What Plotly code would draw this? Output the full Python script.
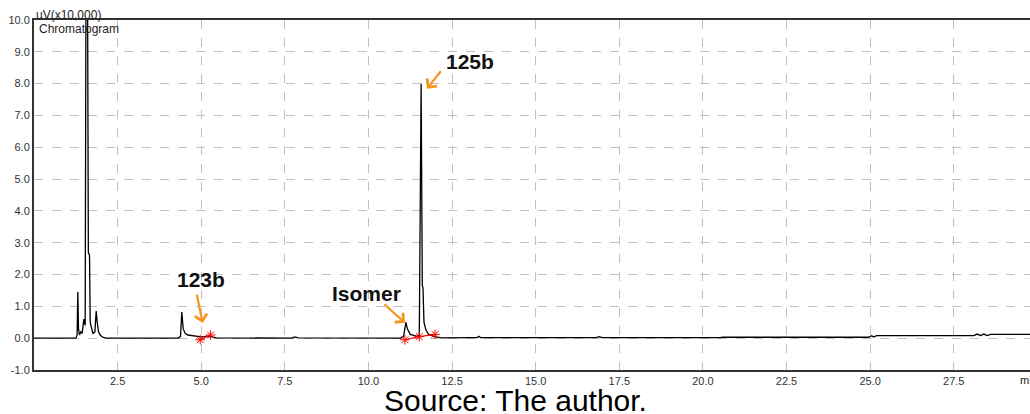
import plotly.graph_objects as go

# Chromatogram signal (retention time in min, intensity in uV x 10,000)
time_min = [0.00, 1.25, 1.29, 1.31, 1.33, 1.36, 1.40, 1.44, 1.49, 1.53, 1.555, 1.60, 1.625, 1.66, 1.68,
            1.72, 1.76, 1.82, 1.86, 1.89, 1.93, 1.98, 2.05, 2.15,
            4.30, 4.38, 4.42, 4.46, 4.52, 4.60, 4.80, 5.00, 5.20, 5.30, 5.45,
            7.70, 7.80, 7.90,
            10.95, 11.05, 11.12, 11.16, 11.25, 11.35, 11.45, 11.52, 11.555, 11.575, 11.61, 11.63, 11.66,
            11.72, 11.80, 11.90, 12.00, 12.20, 12.90, 13.00, 13.25, 13.30, 13.35,
            16.80, 16.90, 17.00, 20.50, 20.60, 24.95, 25.05, 25.10, 25.20, 28.10, 28.20, 28.30, 28.40,
            28.50, 28.60, 29.90]
signal = [0.00, 0.00, 0.10, 1.45, 0.30, 0.10, 0.20, 0.15, 0.60, 0.40, 11.5, 11.5, 2.70, 2.60, 0.50,
          0.35, 0.15, 0.20, 0.85, 0.50, 0.20, 0.10, 0.03, 0.00,
          0.00, 0.05, 0.82, 0.30, 0.15, 0.10, 0.06, 0.04, 0.06, 0.05, 0.01,
          0.00, 0.04, 0.01,
          0.00, 0.05, 0.50, 0.30, 0.12, 0.08, 0.06, 0.10, 8.00, 8.00, 1.65, 1.60, 0.50,
          0.25, 0.12, 0.08, 0.04, 0.01, 0.00, 0.02, 0.02, 0.06, 0.02,
          0.02, 0.05, 0.02, 0.02, 0.03, 0.03, 0.08, 0.04, 0.08, 0.08, 0.13, 0.08, 0.13,
          0.08, 0.12, 0.12]

# Integration baseline markers (red)
mark_123b_t = [4.97, 5.28]
mark_123b_v = [-0.05, 0.10]
mark_iso_t = [11.09, 11.52, 11.99]
mark_iso_v = [-0.05, 0.05, 0.12]

x_ticks = [2.5, 5.0, 7.5, 10.0, 12.5, 15.0, 17.5, 20.0, 22.5, 25.0, 27.5]
y_ticks = [-1.0, 0.0, 1.0, 2.0, 3.0, 4.0, 5.0, 6.0, 7.0, 8.0, 9.0, 10.0]

labels = ["123b", "Isomer", "125b"]
label_t = [4.99, 9.93, 13.03]
label_v = [1.86, 1.39, 8.70]
tip_t = [5.04, 11.09, 11.75]
tip_v = [0.48, 0.48, 7.84]
tail_dx = [-6, -22, 15]
tail_dy = [-30, -20, -19]

FONT = "Liberation Sans, Arial, sans-serif"
ORANGE = "#F7941D"

fig = go.Figure()
fig.add_trace(go.Scatter(x=time_min, y=signal, mode="lines",
                         line=dict(color="black", width=1.3), hoverinfo="skip"))
for tt, vv in [(mark_123b_t, mark_123b_v), (mark_iso_t, mark_iso_v)]:
    fig.add_trace(go.Scatter(x=tt, y=vv, mode="lines+markers",
                             line=dict(color="red", width=1.2),
                             marker=dict(symbol="asterisk-open", size=8, color="red",
                                         line=dict(color="red", width=1)),
                             hoverinfo="skip"))

for lab, lt, lv in zip(labels, label_t, label_v):
    fig.add_annotation(x=lt, y=lv, text="<b>%s</b>" % lab, showarrow=False,
                       font=dict(family=FONT, size=21, color="#111"))
for xt, yt, dx, dy in zip(tip_t, tip_v, tail_dx, tail_dy):
    fig.add_annotation(x=xt, y=yt, text="", showarrow=True, ax=dx, ay=dy,
                       arrowhead=4, arrowsize=1.1, arrowwidth=2.2, arrowcolor=ORANGE)

fig.add_annotation(xref="paper", yref="paper", x=0.0, y=1.0, xanchor="left", yanchor="bottom",
                   text="uV(x10,000)", showarrow=False, yshift=-4,
                   font=dict(family=FONT, size=12, color="#222"))
fig.add_annotation(xref="paper", yref="paper", x=0.003, y=1.0, xanchor="left", yanchor="top",
                   text="Chromatogram", showarrow=False, yshift=0,
                   font=dict(family=FONT, size=12, color="#222"))
fig.add_annotation(xref="paper", yref="paper", x=0.988, y=0.0, xanchor="left", yanchor="top",
                   text="min", showarrow=False, yshift=-2,
                   font=dict(family=FONT, size=11, color="#222"))
fig.add_annotation(xref="paper", yref="paper", x=0.483, y=0.0, xanchor="center", yanchor="top",
                   text="Source: The author.", showarrow=False, yshift=-12,
                   font=dict(family=FONT, size=30, color="black"))

fig.update_layout(
    width=1030, height=414,
    margin=dict(l=34, r=0, t=20, b=44),
    paper_bgcolor="white", plot_bgcolor="white",
    showlegend=False,
    font=dict(family=FONT, size=11, color="#333"),
)
fig.update_xaxes(range=[0, 29.78], tickvals=x_ticks, ticktext=["%.1f" % v for v in x_ticks],
                 showgrid=True, gridcolor="#c0c0c0", griddash="dash", gridwidth=1,
                 showline=True, linecolor="#333", linewidth=2, mirror=True,
                 ticks="", zeroline=False, tickfont=dict(size=11, color="#333"))
fig.update_yaxes(range=[-1, 10], tickvals=y_ticks, ticktext=["%.1f" % v for v in y_ticks],
                 showgrid=True, gridcolor="#c0c0c0", griddash="dash", gridwidth=1,
                 showline=True, linecolor="#333", linewidth=2,
                 ticks="", zeroline=False, tickfont=dict(size=11, color="#333"))

fig.write_html("out.html", config={"displayModeBar": False},
               post_script="document.body.style.margin='0';document.body.style.overflow='hidden';")
